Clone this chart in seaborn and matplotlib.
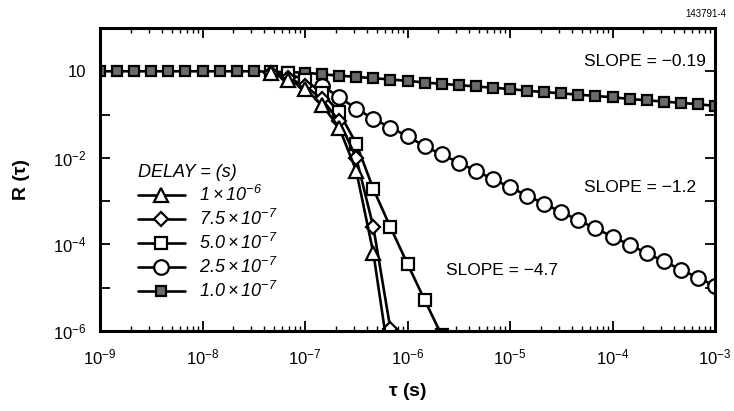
import numpy as np
import pandas as pd
import matplotlib
matplotlib.use("Agg")
import matplotlib.pyplot as plt
import seaborn as sns
from matplotlib.ticker import FixedLocator, FixedFormatter, NullFormatter

sns.set_theme(style="ticks")
plt.rcParams['font.family'] = ['Liberation Sans', 'DejaVu Sans']
plt.rcParams['mathtext.fontset'] = 'custom'
plt.rcParams['mathtext.rm'] = 'Liberation Sans'
plt.rcParams['mathtext.it'] = 'Liberation Sans:italic'
plt.rcParams['mathtext.bf'] = 'Liberation Sans:bold'
plt.rcParams['mathtext.sf'] = 'Liberation Sans:italic'
for k in ['text.color', 'axes.labelcolor', 'xtick.color', 'ytick.color', 'axes.edgecolor']:
    plt.rcParams[k] = 'black'

# shared sampling grid: log10(tau)
tau_exp = [-9.0, -8.833, -8.667, -8.5, -8.333, -8.167, -8.0, -7.833, -7.667, -7.5,
           -7.333, -7.167, -7.0, -6.833, -6.667, -6.5, -6.333, -6.167, -6.0, -5.833,
           -5.667, -5.5, -5.333, -5.167, -5.0, -4.833, -4.667, -4.5, -4.333, -4.167,
           -4.0, -3.833, -3.667, -3.5, -3.333, -3.167, -3.0]

# log10 R(tau)
logR_1e7 = [0, 0, 0, 0, 0, 0, 0, 0, 0, 0, -0.01, -0.02, -0.03, -0.07, -0.10, -0.13,
            -0.16, -0.19, -0.22, -0.26, -0.29, -0.32, -0.35, -0.38, -0.41, -0.45,
            -0.48, -0.51, -0.54, -0.57, -0.60, -0.64, -0.67, -0.70, -0.73, -0.76, -0.80]
logR_1e6 = [-0.05, -0.19, -0.40, -0.78, -1.30, -2.30, -4.20, -6.85]            # from index 10
logR_75e8 = [-0.03, -0.15, -0.33, -0.65, -1.15, -2.00, -3.60, -5.95]           # from index 10
logR_5e7 = [-0.01, -0.05, -0.20, -0.50, -0.95, -1.67, -2.72, -3.60, -4.45, -5.28, -6.10]  # from index 10
logR_25e7 = [-0.33, -0.60, -0.86, -1.10, -1.30, -1.50, -1.73, -1.92, -2.11, -2.30,
             -2.49, -2.68, -2.87, -3.06, -3.25, -3.44, -3.63, -3.82, -4.01, -4.20,
             -4.39, -4.58, -4.77, -4.96]                                         # from index 13

labels = [r'$\mathsf{1\times10^{-6}}$', r'$\mathsf{7.5\times10^{-7}}$',
          r'$\mathsf{5.0\times10^{-7}}$', r'$\mathsf{2.5\times10^{-7}}$',
          r'$\mathsf{1.0\times10^{-7}}$']

series = [
    (labels[4], 0, logR_1e7, dict(marker='s', markersize=6.5, markerfacecolor='#6a6a6a')),
    (labels[3], 13, logR_25e7, dict(marker='o', markersize=10.5, markerfacecolor='white')),
    (labels[2], 10, logR_5e7, dict(marker='s', markersize=9, markerfacecolor='white')),
    (labels[1], 10, logR_75e8, dict(marker='D', markersize=7.5, markerfacecolor='white')),
    (labels[0], 10, logR_1e6, dict(marker='^', markersize=9.5, markerfacecolor='white')),
]

fig = plt.figure(figsize=(7.34, 4.11), dpi=100)
ax = fig.add_axes([100/734, 1-331/411, 615/734, 303/411])

for lab, start, vals, st in series:
    x = 10.0 ** np.array(tau_exp[start:start + len(vals)])
    y = 10.0 ** np.array(vals)
    df = pd.DataFrame({'tau': x, 'R': y})
    sns.lineplot(data=df, x='tau', y='R', ax=ax, color='black', linewidth=1.9,
                 markeredgecolor='black', markeredgewidth=1.6, label=lab, **st)

ax.set_xscale('log')
ax.set_yscale('log')
ax.set_xlim(1e-9, 1e-3)
ax.set_ylim(1e-6, 1e1)

xt = [1e-9, 1e-8, 1e-7, 1e-6, 1e-5, 1e-4, 1e-3]
xtl = [r'$10^{-9}$', r'$10^{-8}$', r'$10^{-7}$', r'$10^{-6}$', r'$10^{-5}$', r'$10^{-4}$', r'$10^{-3}$']
ax.xaxis.set_major_locator(FixedLocator(xt))
ax.xaxis.set_major_formatter(FixedFormatter(xtl))
xminor = [m * 10.0 ** e for e in range(-9, -3) for m in range(2, 10)]
ax.xaxis.set_minor_locator(FixedLocator(xminor))
ax.xaxis.set_minor_formatter(NullFormatter())

yt = [1e-6, 1e-5, 1e-4, 1e-3, 1e-2, 1e-1, 1e0]
ytl = [r'$10^{-6}$', '', r'$10^{-4}$', '', r'$10^{-2}$', '', '10']
ax.yaxis.set_major_locator(FixedLocator(yt))
ax.yaxis.set_major_formatter(FixedFormatter(ytl))
ax.yaxis.set_minor_locator(FixedLocator([]))

ax.tick_params(which='major', direction='in', length=7, width=1.3, top=True, right=True,
               labelsize=12, colors='black')
ax.tick_params(axis='x', which='major', pad=12)
ax.tick_params(axis='y', which='major', pad=10)
ax.tick_params(which='minor', direction='in', length=3.5, width=1.0, top=True, right=True)
for s in ax.spines.values():
    s.set_linewidth(2.2)
    s.set_color('black')

ax.set_xlabel(r'$\mathbf{\tau}$ (s)', fontsize=14, fontweight='bold', labelpad=10)
ax.set_ylabel('R (τ)', fontsize=14, fontweight='bold', labelpad=16)

h, l = ax.get_legend_handles_labels()
order = [l.index(lb) for lb in labels]
leg = ax.legend([h[i] for i in order], [l[i] for i in order],
                title='DELAY = (s)', loc='upper left', bbox_to_anchor=(0.05, 0.575),
                frameon=False, fontsize=13, handlelength=2.6, labelspacing=0.22,
                handletextpad=0.8, borderaxespad=0,
                title_fontproperties={'style': 'italic', 'size': 13}, alignment='left')

ax.text(0.886, 0.888, 'SLOPE = \u22120.19', transform=ax.transAxes, ha='center', va='center', fontsize=12.5)
ax.text(0.878, 0.472, 'SLOPE = \u22121.2', transform=ax.transAxes, ha='center', va='center', fontsize=12.5)
ax.text(0.654, 0.201, 'SLOPE = \u22124.7', transform=ax.transAxes, ha='center', va='center', fontsize=12.5)

fig.text(0.989, 0.966, '143791-4', ha='right', va='center', fontsize=7)

fig.savefig('out.png', dpi=100)
